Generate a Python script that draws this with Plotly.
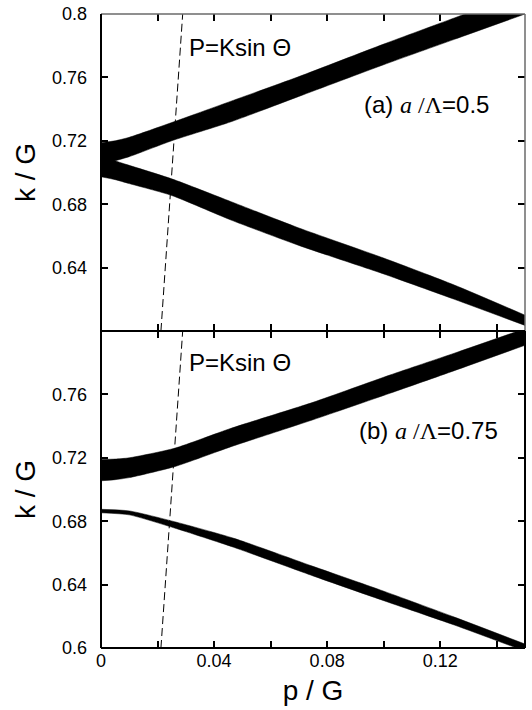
import plotly.graph_objects as go
from plotly.subplots import make_subplots

# ---- data ----
# Panel (a) a/Λ = 0.5
p_a = [0.0, 0.005, 0.01, 0.025, 0.046, 0.07, 0.1, 0.125, 0.15]
a_upper_top = [0.7188, 0.7200, 0.7222, 0.7315, 0.7450, 0.7605, 0.7810, 0.7975, 0.8140]
a_upper_bot = [0.7050, 0.7074, 0.7100, 0.7200, 0.7320, 0.7480, 0.7680, 0.7840, 0.8000]
a_lower_top = [0.7120, 0.7074, 0.7045, 0.6960, 0.6816, 0.6650, 0.6460, 0.6290, 0.6100]
a_lower_bot = [0.6973, 0.6955, 0.6930, 0.6855, 0.6700, 0.6540, 0.6360, 0.6200, 0.6035]

# Panel (b) a/Λ = 0.75
p_b_up = [0.0, 0.005, 0.01, 0.026, 0.046, 0.075, 0.1022, 0.125, 0.15]
b_upper_top = [0.7190, 0.7192, 0.7200, 0.7260, 0.7386, 0.7550, 0.7722, 0.7860, 0.8015]
b_upper_bot = [0.7055, 0.7062, 0.7075, 0.7144, 0.7270, 0.7440, 0.7607, 0.7750, 0.7910]
p_b_lo = [0.0, 0.01, 0.026, 0.047, 0.075, 0.099, 0.125, 0.15]
b_lower_top = [0.6875, 0.6865, 0.6797, 0.6692, 0.6515, 0.6365, 0.6195, 0.6025]
b_lower_bot = [0.6853, 0.6840, 0.6757, 0.6635, 0.6455, 0.6305, 0.6145, 0.5980]

# P = K sin Θ light line (same in both panels)
light_p = [0.0212, 0.0289]
light_k = [0.6, 0.8]

x_tickvals = [0.0, 0.02, 0.04, 0.06, 0.08, 0.10, 0.12, 0.14]
x_ticktext = ["0", "", "0.04", "", "0.08", "", "0.12", ""]
y_tickvals = [0.6, 0.64, 0.68, 0.72, 0.76, 0.8]
y_ticktext_a = ["", "0.64", "0.68", "0.72", "0.76", "0.8"]
y_ticktext_b = ["0.6", "0.64", "0.68", "0.72", "0.76", ""]

SANS = "Liberation Sans, Arial, sans-serif"
SERIF = "Liberation Serif"

fig = make_subplots(rows=2, cols=1, shared_xaxes=True, vertical_spacing=0)


def band(p, bot, top, row):
    fig.add_trace(go.Scatter(x=p, y=bot, mode="lines",
                             line=dict(width=0.5, color="black", shape="spline", smoothing=0.6),
                             showlegend=False, hoverinfo="skip"), row=row, col=1)
    fig.add_trace(go.Scatter(x=p, y=top, mode="lines", fill="tonexty", fillcolor="black",
                             line=dict(width=0.5, color="black", shape="spline", smoothing=0.6),
                             showlegend=False, hoverinfo="skip"), row=row, col=1)


band(p_a, a_upper_bot, a_upper_top, 1)
band(p_a, a_lower_bot, a_lower_top, 1)
band(p_b_up, b_upper_bot, b_upper_top, 2)
band(p_b_lo, b_lower_bot, b_lower_top, 2)

for r in (1, 2):
    fig.add_trace(go.Scatter(x=light_p, y=light_k, mode="lines",
                             line=dict(color="black", width=1, dash="8px,4px"),
                             showlegend=False, hoverinfo="skip"), row=r, col=1)

xcommon = dict(range=[0, 0.15], tickvals=x_tickvals, ticktext=x_ticktext,
               ticks="inside", ticklen=7, tickwidth=1.5, tickcolor="black",
               mirror="ticks", showline=False, showgrid=False, zeroline=False,
               automargin=False,
               tickfont=dict(family=SANS, size=18, color="black"))
ycommon = dict(range=[0.6, 0.8], tickvals=y_tickvals,
               ticks="inside", ticklen=7, tickwidth=1.5, tickcolor="black",
               mirror="ticks", showline=False, showgrid=False, zeroline=False,
               automargin=False,
               tickfont=dict(family=SANS, size=18, color="black"),
               ticklabelstandoff=13,
               title=dict(text="k / G", font=dict(family=SANS, size=28, color="black"), standoff=8))

fig.update_xaxes(**xcommon)
fig.update_xaxes(showticklabels=False, row=1, col=1)
fig.update_xaxes(showticklabels=True,
                 title=dict(text="p / G", font=dict(family=SANS, size=28, color="black"), standoff=10),
                 row=2, col=1)
fig.update_yaxes(**ycommon)
fig.update_yaxes(ticktext=y_ticktext_a, row=1, col=1)
fig.update_yaxes(ticktext=y_ticktext_b, row=2, col=1)

# frame lines
shapes = [
    dict(type="line", xref="paper", yref="paper", x0=0, x1=1, y0=1, y1=1, line=dict(color="#6a6a6a", width=1.5)),
    dict(type="line", xref="paper", yref="paper", x0=1, x1=1, y0=0.5, y1=1, line=dict(color="#6a6a6a", width=1.5)),
    dict(type="line", xref="paper", yref="paper", x0=1, x1=1, y0=0, y1=0.5, line=dict(color="black", width=2)),
    dict(type="line", xref="paper", yref="paper", x0=0, x1=0, y0=0, y1=1, line=dict(color="black", width=2)),
    dict(type="line", xref="paper", yref="paper", x0=0, x1=1, y0=0.5, y1=0.5, line=dict(color="black", width=2)),
    dict(type="line", xref="paper", yref="paper", x0=0, x1=1, y0=0, y1=0, line=dict(color="black", width=2)),
]

ann_font = dict(family=SANS, size=24, color="black")
annotations = [
    dict(xref="x", yref="y", x=0.0304, y=0.779, xanchor="left", yanchor="middle",
         text="P=Ksin Θ", showarrow=False, font=ann_font),
    dict(xref="x2", yref="y2", x=0.0304, y=0.780, xanchor="left", yanchor="middle",
         text="P=Ksin Θ", showarrow=False, font=ann_font),
    dict(xref="x", yref="y", x=0.0923, y=0.7432, xanchor="left", yanchor="middle",
         text=f"(a) <span style='font-family:{SERIF}'><i>a</i> /Λ</span>=0.5",
         showarrow=False, font=ann_font),
    dict(xref="x2", yref="y2", x=0.0906, y=0.7375, xanchor="left", yanchor="middle",
         text=f"(b) <span style='font-family:{SERIF}'><i>a</i> /Λ</span>=0.75",
         showarrow=False, font=ann_font),
]

fig.update_layout(width=532, height=710,
                  margin=dict(l=101, r=7, t=14, b=62),
                  paper_bgcolor="white", plot_bgcolor="white",
                  showlegend=False, shapes=shapes, annotations=annotations,
                  font=dict(family=SANS, color="black"))

fig.write_html("out.html", config={"displayModeBar": False},
               post_script="document.body.style.margin='0';document.body.style.padding='0';")
